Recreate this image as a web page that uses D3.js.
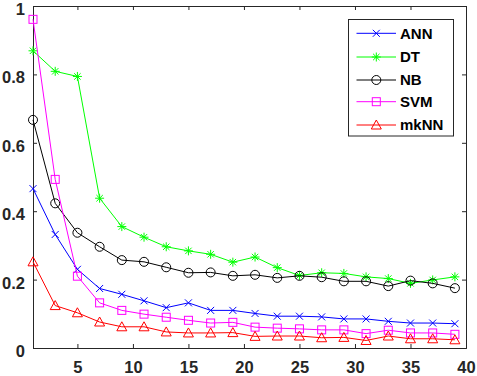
<!DOCTYPE html>
<html><head><meta charset="utf-8">
<script src="https://cdn.jsdelivr.net/npm/d3@7"></script>
<style>body{margin:0;background:#fff}svg{display:block}</style>
</head><body>
<script>
const xValues = [1,3,5,7,9,11,13,15,17,19,21,23,25,27,29,31,33,35,37,39];
const ANN  = [0.466,0.332,0.230,0.174,0.157,0.138,0.118,0.132,0.110,0.110,0.101,0.093,0.093,0.091,0.085,0.085,0.078,0.073,0.073,0.071];
const DT   = [0.869,0.809,0.794,0.438,0.355,0.324,0.296,0.284,0.274,0.251,0.266,0.235,0.212,0.220,0.218,0.208,0.203,0.189,0.199,0.208];
const NB   = [0.667,0.423,0.337,0.296,0.257,0.252,0.236,0.220,0.221,0.211,0.214,0.205,0.211,0.207,0.195,0.195,0.181,0.197,0.189,0.175];
const SVM  = [0.961,0.493,0.210,0.132,0.110,0.099,0.090,0.081,0.073,0.075,0.061,0.058,0.056,0.053,0.053,0.042,0.052,0.044,0.044,0.040];
const mkNN = [0.252,0.124,0.103,0.076,0.062,0.062,0.047,0.044,0.044,0.045,0.034,0.035,0.035,0.030,0.031,0.022,0.035,0.027,0.027,0.024];
const xTicks = [5,10,15,20,25,30,35,40];
const yTicks = [0,0.2,0.4,0.6,0.8,1];
const seriesNames = ["ANN","DT","NB","SVM","mkNN"];
const seriesColors = ["#0000ff","#00ff00","#000000","#ff00ff","#ff0000"];
const seriesMarkers = ["x","star","circle","square","triangle"];
const seriesData = [ANN, DT, NB, SVM, mkNN];

const W = 477, H = 376;
const L = 33, R = 466, T = 6, B = 348;
const svg = d3.select("body").append("svg").attr("width", W).attr("height", H);
const x = d3.scaleLinear().domain([1,40]).range([L,R]);
const y = d3.scaleLinear().domain([0,1]).range([B,T]);
const axisColor = "#262626";
const font = "'Liberation Sans', Arial, sans-serif";

// axes
const gx = svg.append("g").attr("transform", `translate(0,${B})`)
  .call(d3.axisBottom(x).tickValues(xTicks).tickSize(-4).tickPadding(13).tickFormat(d3.format("d")));
const gxt = svg.append("g").attr("transform", `translate(0,${T})`)
  .call(d3.axisTop(x).tickValues(xTicks).tickSize(-4).tickFormat(""));
const gy = svg.append("g").attr("transform", `translate(${L},0)`)
  .call(d3.axisLeft(y).tickValues(yTicks).tickSize(-4).tickPadding(8).tickFormat(d => d === 0 || d === 1 ? d3.format("d")(d) : d3.format(".1f")(d)));
const gyr = svg.append("g").attr("transform", `translate(${R},0)`)
  .call(d3.axisRight(y).tickValues(yTicks).tickSize(-4).tickFormat(""));
[gx,gxt,gy,gyr].forEach(g => {
  g.selectAll("path.domain").attr("stroke", axisColor).attr("stroke-width", 1);
  g.selectAll(".tick line").attr("stroke", axisColor);
  g.selectAll("text").attr("fill", axisColor).style("font-family", font).style("font-size", "16.5px").style("font-weight", "bold");
});
gy.selectAll("text").attr("dy", "0.52em");

function drawMarker(g, type, color, cx, cy) {
  if (type === "x") {
    const s = 3.5;
    g.append("path").attr("d", `M${cx-s},${cy-s}L${cx+s},${cy+s}M${cx-s},${cy+s}L${cx+s},${cy-s}`)
      .attr("stroke", color).attr("stroke-width", 1).attr("fill", "none");
  } else if (type === "star") {
    const s = 4.5, d = 3.2;
    g.append("path").attr("d", `M${cx-s},${cy}L${cx+s},${cy}M${cx},${cy-s}L${cx},${cy+s}M${cx-d},${cy-d}L${cx+d},${cy+d}M${cx-d},${cy+d}L${cx+d},${cy-d}`)
      .attr("stroke", color).attr("stroke-width", 1).attr("fill", "none");
  } else if (type === "circle") {
    g.append("circle").attr("cx", cx).attr("cy", cy).attr("r", 4.5)
      .attr("stroke", color).attr("stroke-width", 1).attr("fill", "none");
  } else if (type === "square") {
    const s = 4;
    g.append("rect").attr("x", cx-s).attr("y", cy-s).attr("width", 2*s).attr("height", 2*s)
      .attr("stroke", color).attr("stroke-width", 1).attr("fill", "none");
  } else if (type === "triangle") {
    const s = 5;
    g.append("path").attr("d", `M${cx},${cy-s}L${cx+s},${cy+s*0.8}L${cx-s},${cy+s*0.8}Z`)
      .attr("stroke", color).attr("stroke-width", 1).attr("fill", "none");
  }
}

const line = d3.line().x((d,i) => x(xValues[i])).y(d => y(d));
seriesData.forEach((vals, k) => {
  const g = svg.append("g");
  g.append("path").datum(vals).attr("d", line).attr("fill", "none")
    .attr("stroke", seriesColors[k]).attr("stroke-width", 1);
  vals.forEach((v, i) => drawMarker(g, seriesMarkers[k], seriesColors[k], x(xValues[i]), y(v)));
});

// legend
const lg = svg.append("g");
lg.append("rect").attr("x", 348.5).attr("y", 19.5).attr("width", 105).attr("height", 116.5)
  .attr("fill", "#fff").attr("stroke", axisColor).attr("stroke-width", 1);
const legY = [33.3, 57, 80, 101.7, 125];
seriesNames.forEach((n, k) => {
  lg.append("line").attr("x1", 356.5).attr("x2", 396).attr("y1", legY[k]).attr("y2", legY[k])
    .attr("stroke", seriesColors[k]).attr("stroke-width", 1);
  drawMarker(lg, seriesMarkers[k], seriesColors[k], 376.3, legY[k]);
  lg.append("text").attr("x", 400).attr("y", legY[k]).attr("dy", "0.36em")
    .attr("fill", "#000").style("font-family", font).style("font-size", "15px").style("font-weight", "bold").text(n);
});
</script>
</body></html>
